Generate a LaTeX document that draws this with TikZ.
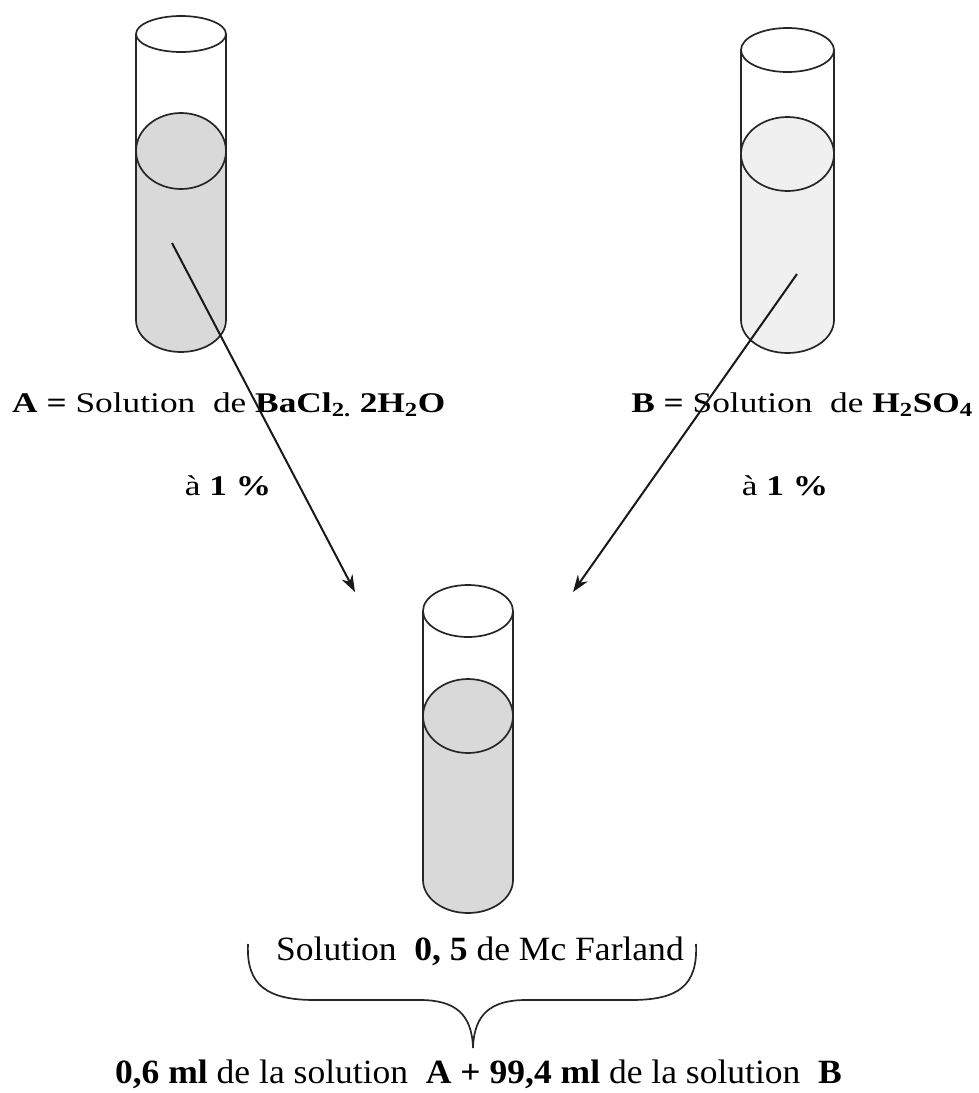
\documentclass[tikz,border=0pt]{standalone}
\usepackage{fontspec}
\setmainfont{Liberation Serif}
\usetikzlibrary{arrows.meta}

% test tube: #1 centre x, #2 half width, #3 rim y, #4 rim half height,
% #5 liquid level y, #6 meniscus half height, #7 end of straight sides,
% #8 depth of rounded bottom, #9 liquid colour
\newcommand\testtube[9]{%
  \fill[#9] (#1-#2,#5) -- (#1-#2,#7)
    arc[start angle=180,end angle=360,x radius=#2pt,y radius=#8pt]
    -- (#1+#2,#5) -- cycle;
  \draw[glass,fill=#9] (#1,#5) ellipse[x radius=#2pt,y radius=#6pt];
  \draw[glass] (#1,#3) ellipse[x radius=#2pt,y radius=#4pt];
  \draw[glass] (#1-#2,#3) -- (#1-#2,#7)
    arc[start angle=180,end angle=360,x radius=#2pt,y radius=#8pt]
    -- (#1+#2,#3);
}

\definecolor{liquidA}{gray}{0.85}
\definecolor{liquidB}{gray}{0.94}

\begin{document}
\begin{tikzpicture}[x=1pt,y=-1pt,
  glass/.style={line width=1.7pt,draw=black!85},
  toplabel/.style={inner sep=0pt,xscale=1.24,transform shape,
    font=\fontsize{28.5}{34}\selectfont},
  botlabel/.style={inner sep=0pt,xscale=1.045,transform shape,
    font=\fontsize{34}{40}\selectfont},
  transfer/.style={line width=2pt,draw=black!90,
    -{Stealth[length=17pt,width=12pt]}}]
\useasboundingbox (0,0) rectangle (979,1093);

% the three tubes
\testtube{181}{45}{34}{18}{151}{38}{320}{32}{liquidA}
\testtube{787.5}{46.5}{50}{22}{154}{37}{320}{33}{liquidB}
\testtube{468}{45}{611}{26}{716}{37}{880}{33}{liquidA}

% labels
\node[toplabel,anchor=base west] (labA) at (12,412)
  {\textbf{A =} Solution\ \ de \textbf{BaCl\textsubscript{2.} 2H\textsubscript{2}O}};
\node[toplabel,anchor=base] (pctA) at (228,495) {à \textbf{1 \%}};
\node[toplabel,anchor=base west] (labB) at (631,412)
  {\textbf{B =} Solution\ \ de \textbf{H\textsubscript{2}SO\textsubscript{4}}};
\node[toplabel,anchor=base] (pctB) at (785,495) {à \textbf{1 \%}};
\node[botlabel,anchor=base] (mcf) at (480,960)
  {Solution\ \ \textbf{0, 5} de Mc Farland};
\node[botlabel,anchor=base] (mix) at (478.5,1083)
  {\textbf{0,6 ml} de la solution\ \ \textbf{A + 99,4 ml} de la solution\ \ \textbf{B}};

% transfers into the mixing tube
\coordinate (srcA) at (172,243);
\coordinate (dstA) at (355,592);
\coordinate (srcB) at (797,274);
\coordinate (dstB) at (573,592);
\draw[transfer] (srcA) -- (dstA);
\draw[transfer] (srcB) -- (dstB);

% brace under the mixture label
\draw[glass]
  (248,944) .. controls (246,986) and (268,1000) .. (315,1000)
  -- (420,1000) .. controls (455,1000) and (472,1014) .. (473,1048)
  .. controls (474,1014) and (491,1000) .. (526,1000)
  -- (631,1000) .. controls (678,1000) and (698,986) .. (696,944);
\end{tikzpicture}
\end{document}
